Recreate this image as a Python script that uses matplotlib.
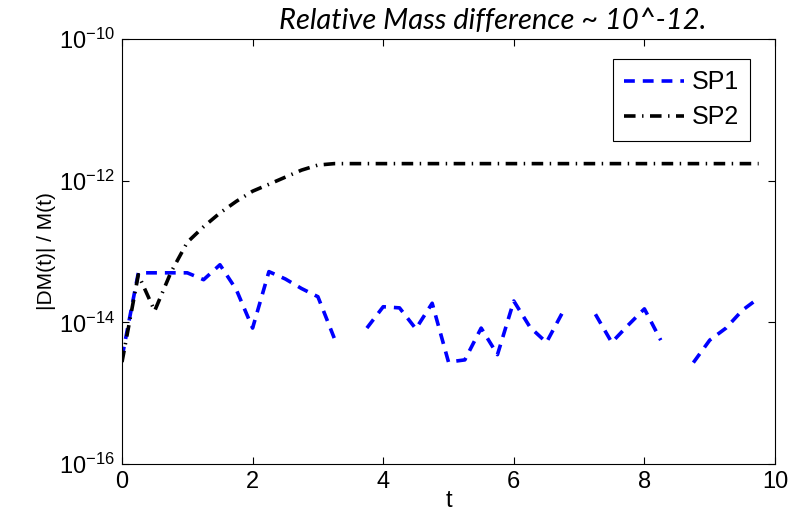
import numpy as np
import matplotlib
matplotlib.use("Agg")
import matplotlib.pyplot as plt

# time samples (dt = 0.25)
t = np.arange(0, 10, 0.25)

# SP1 relative mass difference (nan where nothing is drawn)
sp1 = [3.2e-15, 5.0e-14, 5.0e-14, 5.0e-14, 5.0e-14, 4.0e-14, 6.5e-14, 2.9e-14,
       8.3e-15, 5.2e-14, 4.1e-14, 3.0e-14, 2.3e-14, 6.0e-15, np.nan, 8.3e-15,
       1.66e-14, 1.6e-14, 8.1e-15, 1.86e-14, 2.75e-15, 2.95e-15, 8.3e-15, 3.5e-15,
       2.0e-14, 8.5e-15, 5.2e-15, 1.4e-14, np.nan, 1.3e-14, 5.2e-15, 9.1e-15,
       1.55e-14, 5.6e-15, np.nan, 2.7e-15, 5.6e-15, 8.3e-15, 1.48e-14, 2.2e-14]

# SP2 relative mass difference
sp2 = [2.75e-15, 4.7e-14, 1.45e-14, 5.1e-14, 1.35e-13, 2.24e-13, 3.5e-13, 5.1e-13,
       7.1e-13, 8.9e-13, 1.12e-12, 1.41e-12, 1.66e-12] + [1.74e-12] * 27

xticks = [0, 2, 4, 6, 8, 10]
yticks = [1e-16, 1e-14, 1e-12, 1e-10]

plt.rcParams['font.family'] = ['Liberation Sans', 'DejaVu Sans']

fig = plt.figure(figsize=(8.05, 5.18), dpi=100)
ax = fig.add_axes([122 / 805, 1 - 464 / 518, 653 / 805, 425 / 518])

ax.semilogy(t, sp1, color='blue', lw=2.6, linestyle=(0, (3, 2.2)), label='SP1')
ax.semilogy(t, sp2, color='black', lw=2.6, linestyle=(0, (3.2, 1.8, 0.4, 1.8)), label='SP2')

ax.set_xlim(0, 10)
ax.set_ylim(1e-16, 1e-10)
ax.set_xticks(xticks)
ax.set_xticklabels([str(v) for v in xticks])
ax.set_yticks(yticks)
ax.minorticks_off()
ax.tick_params(direction='in', top=True, right=True, length=5, width=0.8,
               labelsize=17, pad=5)

ax.set_xlabel('t', fontsize=17, labelpad=-2)
ax.set_ylabel('|DM(t)| / M(t)', fontsize=15, labelpad=2)
ax.text(0.567, 1.012, 'Relative Mass difference ~ 10^-12.', transform=ax.transAxes,
        ha='center', va='bottom', fontsize=21, style='italic', family='Lato')

leg = ax.legend(loc='upper right', bbox_to_anchor=(1 - 25 / 653, 1 - 20 / 425),
                borderaxespad=0, fontsize=18, handlelength=2.4, fancybox=False,
                edgecolor='black', framealpha=1, borderpad=0.45, labelspacing=0.45,
                handletextpad=0.3)
leg.get_frame().set_linewidth(0.8)

fig.savefig('out.png', dpi=100)
